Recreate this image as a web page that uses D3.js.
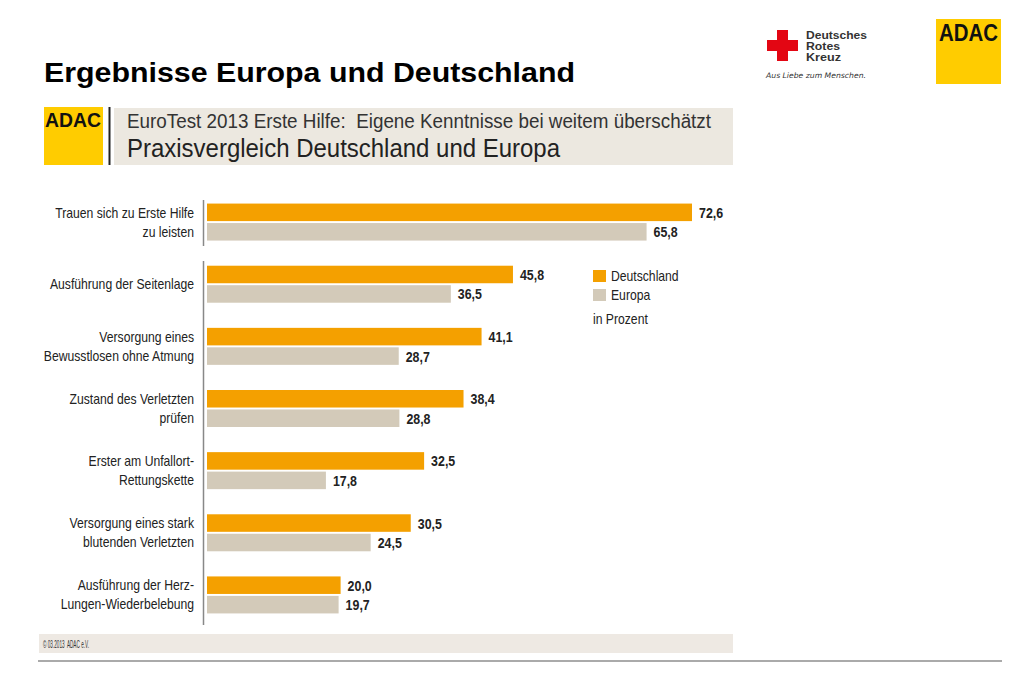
<!DOCTYPE html>
<html><head><meta charset="utf-8">
<script src="https://cdn.jsdelivr.net/npm/d3@7"></script>
<style>
html,body{margin:0;padding:0;background:#fff;}
svg{display:block;}
</style></head>
<body>
<svg id="c" width="1024" height="673"></svg>
<script>
const categories = [
  ["Trauen sich zu Erste Hilfe","zu leisten"],
  ["Ausführung der Seitenlage"],
  ["Versorgung eines","Bewusstlosen ohne Atmung"],
  ["Zustand des Verletzten","prüfen"],
  ["Erster am Unfallort-","Rettungskette"],
  ["Versorgung eines stark","blutenden Verletzten"],
  ["Ausführung der Herz-","Lungen-Wiederbelebung"]
];
const deutschland = [72.6, 45.8, 41.1, 38.4, 32.5, 30.5, 20.0];
const europa      = [65.8, 36.5, 28.7, 28.8, 17.8, 24.5, 19.7];
const seriesNames = ["Deutschland","Europa"];
const colors = ["#f4a000","#d3cab9"];

const svg = d3.select("#c");
const sans = "'Liberation Sans',Arial,sans-serif";

// helper: horizontally condensed text
function ctext(parent, x, y, str, o){
  o = o || {};
  const t = parent.append("text")
    .attr("transform", `translate(${x},${y}) scale(${o.sx||1},1)`)
    .attr("font-family", o.family || sans)
    .attr("font-size", o.size || 14)
    .attr("fill", o.fill || "#222")
    .attr("font-weight", o.weight || "normal")
    .attr("text-anchor", o.anchor || "start")
    .text(str);
  if (o.italic) t.attr("font-style","italic");
  if (o.len) t.attr("textLength", o.len).attr("lengthAdjust","spacingAndGlyphs");
  if (o.pre) t.attr("xml:space","preserve");
  return t;
}

// Title
ctext(svg, 44, 82, "Ergebnisse Europa und Deutschland", {size:27, weight:"bold", fill:"#000", len:531});

// DRK logo
const drk = svg.append("g");
drk.append("rect").attr("x",777).attr("y",30).attr("width",11).attr("height",31).attr("fill","#e30613");
drk.append("rect").attr("x",767).attr("y",40).attr("width",31).attr("height",11).attr("fill","#e30613");
const drkLens = [61, 34, 35];
["Deutsches","Rotes","Kreuz"].forEach((t,i)=>{
  ctext(drk, 806, 38.5+i*11, t, {size:10.5, weight:"bold", fill:"#333", len:drkLens[i]});
});
ctext(drk, 766, 78, "Aus Liebe zum Menschen.", {size:7.5, italic:true, fill:"#333", family:"'DejaVu Sans',sans-serif", len:100});

// ADAC top-right logo
svg.append("rect").attr("x",936).attr("y",19).attr("width",65).attr("height",65).attr("fill","#ffcc00");
ctext(svg, 939, 41, "ADAC", {size:24, weight:"bold", fill:"#111", len:59});

// Header box
svg.append("rect").attr("x",44).attr("y",107).attr("width",59).attr("height",58).attr("fill","#ffcc00");
ctext(svg, 45, 127, "ADAC", {size:21, weight:"bold", fill:"#111", len:56});
svg.append("rect").attr("x",108.5).attr("y",107).attr("width",2).attr("height",58).attr("fill","#222");
svg.append("rect").attr("x",114).attr("y",108).attr("width",619).attr("height",57).attr("fill","#ece8e0");
ctext(svg, 127, 128, "EuroTest 2013 Erste Hilfe:  Eigene Kenntnisse bei weitem überschätzt",
  {size:19.5, fill:"#333", len:584, pre:true});
ctext(svg, 127, 157, "Praxisvergleich Deutschland und Europa", {size:25, fill:"#222", len:433});

// Chart
const x = d3.scaleLinear().domain([0,72.6]).range([207,692]);
const y = d3.scaleBand().domain(d3.range(categories.length)).range([191,626]).paddingInner(0);
const inner = d3.scaleBand().domain(seriesNames).range([0,37]).paddingInner(0.1);
const bh = inner.bandwidth();

// axis segments
const axisG = svg.append("g");
axisG.append("line").attr("x1",203.5).attr("x2",203.5).attr("y1",200).attr("y2",246).attr("stroke","#888").attr("stroke-width",1.5);
axisG.append("line").attr("x1",203.5).attr("x2",203.5).attr("y1",261).attr("y2",625).attr("stroke","#888").attr("stroke-width",1.5);

const data = categories.map((c,i)=>({cat:c,i,vals:[deutschland[i],europa[i]]}));
const groups = svg.append("g").selectAll("g").data(data).join("g")
  .attr("transform",d=>`translate(0,${y(d.i)+y.bandwidth()/2-18.5})`);

groups.selectAll("rect").data(d=>d.vals.map((v,k)=>({v,k}))).join("rect")
  .attr("x",x(0)).attr("y",d=>inner(seriesNames[d.k]))
  .attr("width",d=>x(d.v)-x(0)).attr("height",bh).attr("fill",d=>colors[d.k]);

groups.each(function(d){
  const g = d3.select(this);
  d.vals.forEach((v,k)=>{
    ctext(g, x(v)+7, inner(seriesNames[k])+bh/2+5.5, d3.format(".1f")(v).replace(".",","),
      {size:15.5, weight:"bold", fill:"#222", sx:0.8});
  });
  const lines = d.cat;
  const start = lines.length===1 ? 18.5+5 : 18.5-9.5+5;
  lines.forEach((t,j)=>{
    ctext(g, 194, start+j*19, t, {size:14.5, fill:"#222", anchor:"end", sx:0.84});
  });
});

// Legend
const lg = svg.append("g");
seriesNames.forEach((n,k)=>{
  lg.append("rect").attr("x",593).attr("y",270+k*19).attr("width",13).attr("height",12).attr("fill",colors[k]);
  ctext(lg, 611, 281+k*19, n, {size:14.5, fill:"#222", sx:0.84});
});
ctext(lg, 593, 324, "in Prozent", {size:14.5, fill:"#222", sx:0.84});

// Footer
svg.append("rect").attr("x",39).attr("y",634).attr("width",694).attr("height",19).attr("fill","#eee9e3");
ctext(svg, 43, 648, "© 03.2013  ADAC e.V.", {size:10.5, fill:"#333", len:46, pre:true});
svg.append("rect").attr("x",38).attr("y",660).attr("width",964).attr("height",2).attr("fill","#aaa");
</script>
</body></html>
